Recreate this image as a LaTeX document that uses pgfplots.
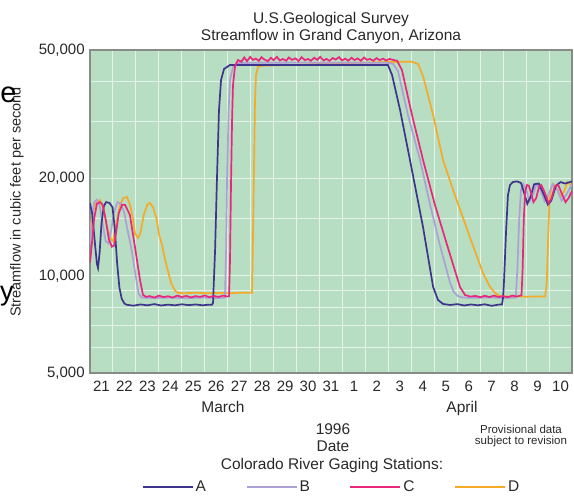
\documentclass[border=0pt]{standalone}
\usepackage{pgfplots}
\pgfplotsset{compat=1.18}
\usepackage{fontspec}
\setmainfont{Liberation Sans}
\definecolor{bggreen}{RGB}{183,221,194}
\definecolor{gridc}{RGB}{228,244,232}
\definecolor{frame}{RGB}{135,140,135}
\definecolor{colA}{RGB}{62,52,140}
\definecolor{colB}{RGB}{172,160,214}
\definecolor{colC}{RGB}{232,40,122}
\definecolor{colD}{RGB}{245,170,40}
\definecolor{txt}{RGB}{40,40,40}
\begin{document}
\fontsize{15.5}{18}\selectfont
\begin{tikzpicture}
\useasboundingbox (0pt,0pt) rectangle (574pt,496pt);
\begin{axis}[
  at={(90pt,123pt)}, anchor=south west,
  width=482pt, height=323pt, scale only axis,
  xmin=21, xmax=42,
  ymode=log, ymin=5000, ymax=50000,
  xtick={21.5,22.5,23.5,24.5,25.5,26.5,27.5,28.5,29.5,30.5,31.5,32.5,33.5,34.5,35.5,36.5,37.5,38.5,39.5,40.5,41.5},
  xticklabels={21,22,23,24,25,26,27,28,29,30,31,1,2,3,4,5,6,7,8,9,10},
  minor xtick={22,23,24,25,26,27,28,29,30,31,32,33,34,35,36,37,38,39,40,41},
  ytick={5000,10000,20000,50000},
  yticklabels={{5,000},{10,000},{20,000},{50,000}},
  minor ytick={6000,7000,8000,9000,15000,30000,40000},
  xminorgrids, ymajorgrids, yminorgrids,
  major tick length=0pt, minor tick length=0pt,
  grid style={gridc, line width=1pt},
  minor grid style={gridc, line width=1pt},
  axis line style={frame, line width=1.2pt},
  axis background/.style={fill=bggreen},
  tick label style={font=\fontsize{15}{18}\selectfont, text=txt},
  xticklabel style={yshift=-3pt},
  /pgf/number format/assume math mode=true,
  legend columns=4,
  legend style={draw=none, fill=none, at={(0.501,-0.3545)}, anchor=center,
    font=\fontsize{15.5}{18}\selectfont, text=txt,
    /tikz/every even column/.append style={column sep=37.5pt}},
  legend image code/.code={\draw[#1] (0pt,0pt) -- (50pt,0pt);},
]
\addlegendimage{colA, line width=2pt}\addlegendentry{A}
\addlegendimage{colB, line width=2pt}\addlegendentry{B}
\addlegendimage{colC, line width=2pt}\addlegendentry{C}
\addlegendimage{colD, line width=2pt}\addlegendentry{D}

% D
\addplot[colD, line width=1.7pt, forget plot] coordinates {
(21.00,13800) (21.10,15500) (21.26,16800) (21.44,17160) (21.60,16000) (21.75,14000) (21.90,13000) (22.00,12800) (22.15,14500) (22.30,16500) (22.45,17400) (22.61,17530) (22.75,16500) (22.87,15000) (22.96,13500) (23.10,13100) (23.20,13600) (23.35,15500) (23.50,16600) (23.61,16800) (23.75,16300) (23.90,15000) (24.00,13500) (24.14,12440) (24.30,11000) (24.53,9500) (24.70,9000) (24.83,8850) (25.10,8830) (25.60,8860) (26.10,8830) (26.60,8850) (27.10,8830) (27.60,8860) (28.06,8850)
(28.10,13000) (28.15,22830) (28.19,35000) (28.23,41840) (28.32,44300) (28.50,44700) (30.00,45000) (32.00,45500) (34.00,45900) (35.03,46000) (35.30,45200) (35.51,41500) (35.95,31450) (36.38,22830) (36.82,18430) (37.47,13660) (38.12,10200) (38.43,9230) (38.65,8845) (38.86,8650) (39.20,8620) (39.60,8640) (40.00,8610) (40.40,8630) (40.83,8620)
(40.90,9500) (40.96,13000) (41.02,17000) (41.10,18800) (41.20,19200) (41.35,18500) (41.50,17600) (41.65,18200) (41.80,19500) (42.00,19000)
};
% B
\addplot[colB, line width=1.7pt, forget plot] coordinates {
(21.00,12500) (21.08,14800) (21.18,16900) (21.30,17200) (21.42,16500) (21.55,14500) (21.68,12800) (21.80,12600) (21.92,13800) (22.05,15800) (22.20,16900) (22.35,16700) (22.50,15600) (22.62,14000) (22.79,12270) (23.00,9900) (23.12,8800) (23.25,8560) (23.80,8530) (24.50,8560) (25.20,8520) (25.90,8560) (26.50,8530) (26.85,8550)
(26.88,8595) (26.93,12010) (26.97,19790) (27.04,32590) (27.10,40380) (27.23,44300) (27.45,45580) (30.00,45700) (34.00,45600) (34.20,45300) (34.42,43000) (34.85,31500) (35.38,22830) (35.80,16800) (36.25,12400) (36.69,9500) (36.85,8900) (37.03,8650) (37.25,8560) (37.80,8540) (38.40,8570) (39.00,8530) (39.55,8560)
(39.62,10500) (39.70,15000) (39.78,18500) (39.88,19200) (40.00,18500) (40.15,17000) (40.30,17800) (40.45,19200) (40.60,18600) (40.80,17000) (40.95,17600) (41.15,19200) (41.35,18500) (41.55,17100) (41.75,17800) (42.00,19200)
};
% A
\addplot[colA, line width=1.7pt, forget plot] coordinates {
(21.00,16800) (21.10,15500) (21.22,12500) (21.30,10900) (21.35,10570) (21.42,11800) (21.50,14500) (21.60,16400) (21.70,16900) (21.85,16800) (21.98,16300) (22.08,14000) (22.18,11000) (22.28,9200) (22.38,8500) (22.50,8200) (22.60,8130) (22.90,8080) (23.20,8150) (23.50,8100) (23.80,8170) (24.10,8090) (24.40,8140) (24.70,8100) (25.00,8160) (25.30,8110) (25.60,8150) (25.90,8100) (26.20,8140) (26.31,8130)
(26.36,8235) (26.45,12010) (26.53,19790) (26.62,32590) (26.71,40380) (26.84,43670) (27.10,44930) (33.98,44930) (34.16,41840) (34.51,32590) (34.94,22830) (35.51,14150) (35.95,9230) (36.16,8420) (36.38,8180) (36.69,8120) (37.00,8170) (37.30,8090) (37.60,8150) (37.90,8100) (38.20,8160) (38.50,8070) (38.80,8140) (38.95,8150)
(39.00,8600) (39.04,9700) (39.13,13860) (39.21,17780) (39.30,19100) (39.42,19500) (39.60,19600) (39.78,19370) (39.92,18000) (40.05,16700) (40.20,17600) (40.35,19200) (40.55,19300) (40.75,18000) (40.95,16600) (41.10,17100) (41.30,19000) (41.50,19500) (41.70,19300) (42.00,19600)
};
% C
\addplot[colC, line width=1.7pt, forget plot] coordinates {
(21.00,10960) (21.08,12500) (21.18,15000) (21.30,16700) (21.44,16900) (21.55,16600) (21.68,15000) (21.82,13000) (21.95,12300) (22.05,12400) (22.15,13800) (22.25,15600) (22.40,16600) (22.53,16560) (22.65,15900) (22.74,15400) (22.96,12270) (23.18,9700) (23.31,8720) (23.45,8600)
(23.60,8650) (23.80,8560) (24.00,8680) (24.20,8590) (24.40,8640) (24.60,8560) (24.80,8680) (25.00,8600) (25.20,8660) (25.40,8570) (25.60,8650) (25.80,8600) (26.00,8690) (26.20,8580) (26.40,8660) (26.60,8600) (26.80,8680) (27.00,8620) (27.06,8650)
(27.10,11190) (27.14,18430) (27.19,30340) (27.23,38940) (27.32,44600) (27.45,46560)
(27.60,46000) (27.72,47400) (27.84,46200) (27.98,47600) (28.10,46600) (28.22,47000) (28.36,46300) (28.47,47500) (28.60,46700) (28.75,46200) (28.88,47300) (29.00,46500) (29.14,47600) (29.27,46400) (29.40,46900) (29.55,46300) (29.66,47400) (29.80,46600) (29.95,47100) (30.08,46200) (30.22,47500) (30.36,46500) (30.50,46900) (30.62,46300) (30.77,47300) (30.90,46600) (31.03,47600) (31.18,46400) (31.30,46900) (31.44,46300) (31.57,47200) (31.70,46700) (31.85,47500) (31.98,46400) (32.12,47000) (32.25,46300) (32.40,47300) (32.53,46500) (32.66,47100) (32.80,46300) (32.94,47400) (33.07,46600) (33.20,46900) (33.35,46300) (33.48,47200) (33.62,46500) (33.77,47000) (33.90,46400) (34.05,46900) (34.20,46600) (34.38,46300)
(34.59,43360) (35.03,31450) (35.51,22830) (36.03,16560) (36.56,12440) (37.12,9230) (37.34,8720) (37.56,8620)
(37.80,8660) (38.00,8580) (38.20,8670) (38.40,8590) (38.60,8680) (38.80,8600) (39.00,8650) (39.20,8580) (39.40,8680) (39.60,8620) (39.80,8700)
(39.85,10500) (39.90,15000) (39.96,18300) (40.04,19100) (40.12,19000) (40.22,18000) (40.32,16900) (40.44,17400) (40.56,18800) (40.66,19100) (40.80,18200) (40.98,16800) (41.10,17300) (41.25,18900) (41.40,19100) (41.55,18000) (41.72,16900) (41.85,17400) (42.00,18300)
};
\end{axis}
\node[anchor=base, text=txt] at (331pt,472.5pt) {U.S.Geological Survey};
\node[anchor=base, text=txt] at (331pt,455pt) {Streamflow in Grand Canyon, Arizona};
\node[rotate=90, text=txt, font=\fontsize{14.5}{17}\selectfont] at (17pt,294pt) {Streamflow in cubic feet per second};
\node[anchor=base, text=txt] at (223pt,83pt) {March};
\node[anchor=base, text=txt] at (462pt,83pt) {April};
\node[anchor=base, text=txt] at (333pt,61pt) {1996};
\node[anchor=base, text=txt] at (333pt,44pt) {Date};
\node[anchor=base, text=txt] at (332pt,26pt) {Colorado River Gaging Stations:};
\node[anchor=base, text=txt, font=\fontsize{11.5}{13}\selectfont] at (521pt,62pt) {Provisional data};
\node[anchor=base, text=txt, font=\fontsize{11.5}{13}\selectfont] at (521pt,51pt) {subject to revision};
\node[anchor=base, text=black, font=\fontsize{29}{34}\selectfont, inner sep=0pt] at (8.5pt,393pt) {e};
\node[anchor=base, text=black, font=\fontsize{27}{32}\selectfont, inner sep=0pt] at (7pt,195pt) {y};
\end{tikzpicture}
\end{document}
